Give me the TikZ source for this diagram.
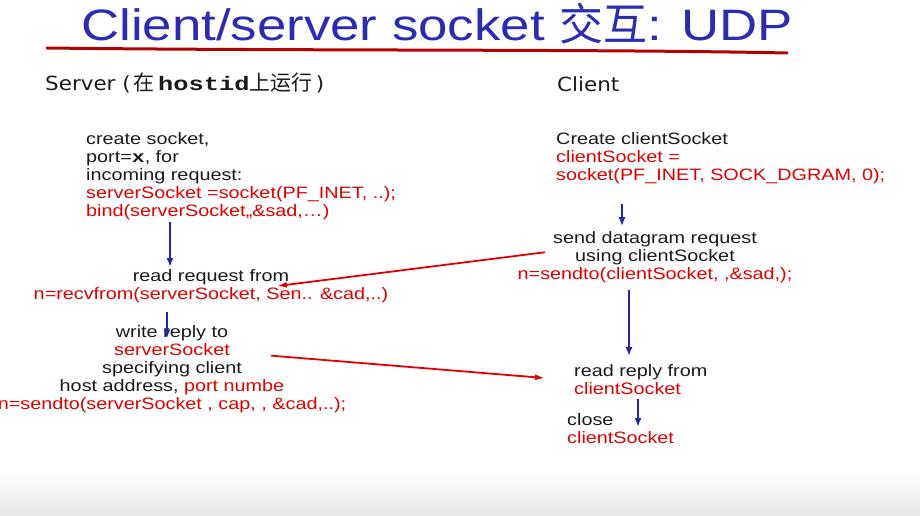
\documentclass[tikz,border=0pt]{standalone}
\usepackage{fontspec}
\setmainfont{Liberation Sans}[FakeStretch=1.2]
\newfontfamily\cjk{Noto Sans CJK SC}
\newfontfamily\handfont{DejaVu Sans}[FakeStretch=1.1]
\newfontfamily\codefont{Liberation Mono}[FakeStretch=1.3]
\usetikzlibrary{arrows.meta}
\definecolor{slideblue}{HTML}{2B2BB3}
\definecolor{slidered}{HTML}{E00000}
\definecolor{arrowblue}{HTML}{2323B8}
\definecolor{textblack}{HTML}{1A1A1A}
\newcommand{\code}[1]{\textcolor{slidered}{#1}}
\newcommand{\hanzi}[1]{{\cjk\fontsize{21}{22}\selectfont #1}}

\begin{document}
\begin{tikzpicture}[
x=1pt,y=-1pt,
every node/.style={font=\fontsize{16.5}{17.8}\selectfont,text=textblack,inner sep=2pt},
lefttxt/.style={align=left,anchor=base west},
midtxt/.style={align=center,anchor=base},
side/.style={font=\handfont\fontsize{19.5}{22}\selectfont,anchor=base west,inner sep=0pt},
flow/.style={-{Latex[length=9pt,width=7pt]},line width=2.2pt,draw=arrowblue},
msg/.style={-{Latex[length=10pt,width=6pt]},line width=1.8pt,draw=slidered}
]
\useasboundingbox (0,0) rectangle (920,516);
\shade[top color=white,bottom color=black!10] (0,470) rectangle (920,516);

\node[font=\fontsize{44}{50}\selectfont,text=slideblue,anchor=base west,inner sep=0pt] (title) at (81,41)
  {Client/server socket {\cjk 交互}: UDP};
\draw[line width=3pt,draw=slidered!80!black,line cap=round] (47,48) .. controls (300,51) and (600,49) .. (787,53);

\node[side] (server) at (45,91) {Server (\,\hanzi{在}\,{\codefont\bfseries hostid}\hanzi{上运行}\,)};
\node[side] (client) at (557,92) {Client};

% base anchor sits on the last line
\node[lefttxt] (ssock) at (84,216) {create socket,\\ port={\codefont\bfseries x}, for\\ incoming request:\\
  \code{serverSocket =socket(PF\_INET, ..);}\\ \code{bind(serverSocket,,\&sad,…)}};
\node[midtxt] (sread) at (211,299) {read request from\\ \code{n=recvfrom(serverSocket, Sen.. \&cad,..)}};
\node[midtxt] (swrite) at (172,409) {write reply to\\ \code{serverSocket}\\ specifying client\\
  host address, \code{port numbe}\\ \code{n=sendto(serverSocket , cap, , \&cad,..);}};

\node[lefttxt] (csock) at (554,180) {Create clientSocket\\ \code{clientSocket =}\\ \code{socket(PF\_INET, SOCK\_DGRAM, 0);}};
\node[midtxt] (csend) at (655,279) {send datagram request\\ using clientSocket\\ \code{n=sendto(clientSocket, ,\&sad,);}};
\node[lefttxt] (cread) at (572,394) {read reply from\\ \code{clientSocket}};
\node[lefttxt] (cclose) at (565,443) {close\\ \code{clientSocket}};

\draw[flow] ([xshift=86pt]ssock.south west) -- ([xshift=-41pt]sread.north);
\draw[flow] ([xshift=-44pt,yshift=-7pt]sread.south) -- ([xshift=-5pt,yshift=-15pt]swrite.north);
\draw[flow] ([xshift=68pt,yshift=-18pt]csock.south west) -- ([xshift=-33pt,yshift=3pt]csend.north);
\draw[flow] ([xshift=-26pt,yshift=-5pt]csend.south) -- ([xshift=57pt,yshift=6pt]cread.north west);
\draw[flow] ([xshift=66pt,yshift=-3pt]cread.south west) -- ([xshift=73pt,yshift=-16pt]cclose.north west);

\draw[msg] ([xshift=-110pt,yshift=-23pt]csend.north) -- ([xshift=66pt,yshift=-19pt]sread.north);
\draw[msg] ([xshift=99pt,yshift=-32pt]swrite.north) -- ([xshift=-27pt,yshift=-16pt]cread.north west);
\end{tikzpicture}
\end{document}
